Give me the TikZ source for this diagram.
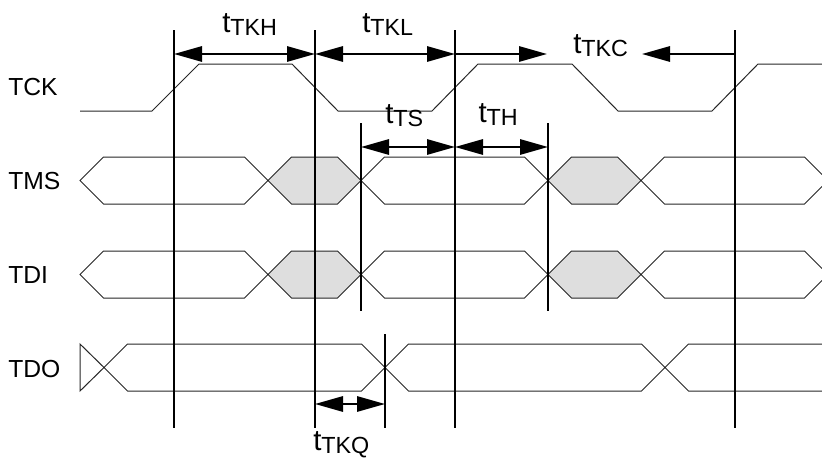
\documentclass[tikz,border=0pt]{standalone}
\usepackage{fontspec}
\setmainfont{Liberation Sans}
\usetikzlibrary{arrows.meta,calc,positioning}
\newcommand{\tsub}[1]{t\raisebox{-2.5pt}{\fontsize{17.5}{18}\selectfont #1}}

\begin{document}
\begin{tikzpicture}[x=0.75pt,y=-0.75pt,
		>={Triangle[length=21pt,width=11.5pt]},
		wave/.style={line width=0.75pt,draw=black!85},
		clkline/.style={line width=1.5pt},
		dimline/.style={line width=1.5pt,<->},
		sig/.style={font=\fontsize{18.5}{20}\selectfont,anchor=base west,inner sep=0pt},
		tlab/.style={font=\fontsize{22}{24}\selectfont,anchor=base west,inner sep=0pt}]
		\useasboundingbox (0,0) rectangle (822,461);
		% signal names
		\node [sig] (tck) at (8,95.7) {TCK};
		\node [sig] (tms) at (8,189) {TMS};
		\node [sig] (tdi) at (8,283.3) {TDI};
		\node [sig] (tdo) at (8,377) {TDO};
		% TCK
		\draw [wave](80,111) -- (152,111) -- (199,64) -- (292,64) -- (338,111) -- (432,111) -- (478,64) -- (572,64) -- (618,111) -- (712,111) -- (758,64) -- (822,64);
		% TMS
		\filldraw [wave,fill=white](80,180.5) -- (103.5,157) -- (244.5,157) -- (268,180.5) -- (244.5,204) -- (103.5,204) -- cycle;
		\filldraw [wave,fill=black!13](268,180.5) -- (291.5,157) -- (337.5,157) -- (361,180.5) -- (337.5,204) -- (291.5,204) -- cycle;
		\filldraw [wave,fill=white](361,180.5) -- (384.5,157) -- (524.5,157) -- (548,180.5) -- (524.5,204) -- (384.5,204) -- cycle;
		\filldraw [wave,fill=black!13](548,180.5) -- (571.5,157) -- (617.5,157) -- (641,180.5) -- (617.5,204) -- (571.5,204) -- cycle;
		\draw [wave](822,174.5) -- (804.5,157) -- (664.5,157) -- (641,180.5) -- (664.5,204) -- (804.5,204) -- (822,186.5);
		% TDI
		\filldraw [wave,fill=white](80,274.5) -- (103.5,251) -- (244.5,251) -- (268,274.5) -- (244.5,298) -- (103.5,298) -- cycle;
		\filldraw [wave,fill=black!13](268,274.5) -- (291.5,251) -- (337.5,251) -- (361,274.5) -- (337.5,298) -- (291.5,298) -- cycle;
		\filldraw [wave,fill=white](361,274.5) -- (384.5,251) -- (524.5,251) -- (548,274.5) -- (524.5,298) -- (384.5,298) -- cycle;
		\filldraw [wave,fill=black!13](548,274.5) -- (571.5,251) -- (617.5,251) -- (641,274.5) -- (617.5,298) -- (571.5,298) -- cycle;
		\draw [wave](822,268.5) -- (804.5,251) -- (664.5,251) -- (641,274.5) -- (664.5,298) -- (804.5,298) -- (822,280.5);
		% TDO
		\draw [wave](80,344) -- (104,367.5) -- (80,391) -- cycle;
		\draw [wave](104,367.5) -- (127.5,344) -- (361.5,344) -- (385,367.5) -- (361.5,391) -- (127.5,391) -- cycle;
		\draw [wave](385,367.5) -- (408.5,344) -- (641.5,344) -- (665,367.5) -- (641.5,391) -- (408.5,391) -- cycle;
		\draw [wave](822,344) -- (688.5,344) -- (665,367.5) -- (688.5,391) -- (822,391);
		% clock edges and sample points
		\draw [clkline](174,30) -- (174,428);
		\draw [clkline](315,30) -- (315,428);
		\draw [clkline](455,30) -- (455,428);
		\draw [clkline](735,30) -- (735,428);
		\draw [clkline](361,123) -- (361,311);
		\draw [clkline](548,123) -- (548,311);
		\draw [clkline](385,334) -- (385,428);
		% arrow ends
		\coordinate (hk1) at (174,54);
		\coordinate (hk2) at (315,54);
		\coordinate (hk3) at (455,54);
		\coordinate (hk4) at (735,54);
		\coordinate (tc1) at (547,54);
		\coordinate (tc2) at (642,54);
		\coordinate (ts1) at (361,147);
		\coordinate (ts2) at (455,147);
		\coordinate (ts3) at (548,147);
		\coordinate (kq1) at (315,404);
		\coordinate (kq2) at (385,404);
		\draw [dimline](hk1) -- (hk2);
		\draw [dimline](hk2) -- (hk3);
		\draw [clkline,->](hk3) -- (tc1);
		\draw [clkline,->](hk4) -- (tc2);
		\draw [dimline](ts1) -- (ts2);
		\draw [dimline](ts2) -- (ts3);
		\draw [dimline](kq1) -- (kq2);
		% timing labels
		\node [tlab] (tkh) at (222,32) {\tsub{TKH}};
		\node [tlab] (tkl) at (362,32) {\tsub{TKL}};
		\node [tlab] (tkc) at (573,53.5) {\tsub{TKC}};
		\node [tlab] (ts) at (385,123.3) {\tsub{TS}};
		\node [tlab] (th) at (478.3,122) {\tsub{TH}};
		\node [tlab] (tkq) at (313,450) {\tsub{TKQ}};
	\end{tikzpicture}
\end{document}
